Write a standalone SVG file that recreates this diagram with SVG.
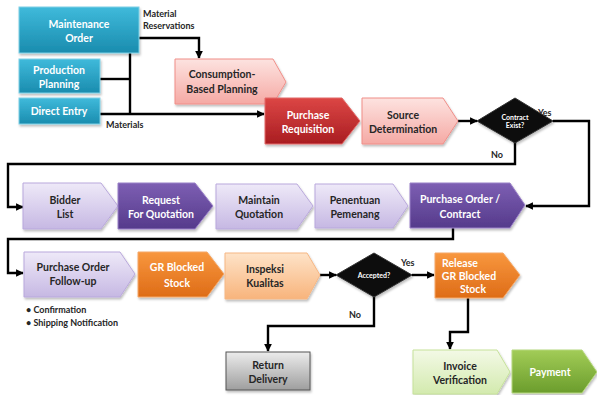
<svg xmlns="http://www.w3.org/2000/svg" width="597" height="395" viewBox="0 0 597 395">
<defs>
<linearGradient id="gTeal" x1="0" y1="0" x2="0" y2="1"><stop offset="0" stop-color="#3fbadb"/><stop offset="1" stop-color="#1a8cae"/></linearGradient>
<linearGradient id="gPink" x1="0" y1="0" x2="0" y2="1"><stop offset="0" stop-color="#fde3e0"/><stop offset="1" stop-color="#f5a9a4"/></linearGradient>
<linearGradient id="gRed" x1="0" y1="0" x2="0" y2="1"><stop offset="0" stop-color="#dc4645"/><stop offset="1" stop-color="#a91d21"/></linearGradient>
<linearGradient id="gLav" x1="0" y1="0" x2="0" y2="1"><stop offset="0" stop-color="#eee9f8"/><stop offset="1" stop-color="#c6b8e3"/></linearGradient>
<linearGradient id="gPur" x1="0" y1="0" x2="0" y2="1"><stop offset="0" stop-color="#7d5fb3"/><stop offset="1" stop-color="#553a8b"/></linearGradient>
<linearGradient id="gOra" x1="0" y1="0" x2="0" y2="1"><stop offset="0" stop-color="#f8973e"/><stop offset="1" stop-color="#de6c17"/></linearGradient>
<linearGradient id="gPeach" x1="0" y1="0" x2="0" y2="1"><stop offset="0" stop-color="#fee3c8"/><stop offset="1" stop-color="#f8b47c"/></linearGradient>
<linearGradient id="gGray" x1="0" y1="0" x2="0" y2="1"><stop offset="0" stop-color="#ececec"/><stop offset="1" stop-color="#9e9e9e"/></linearGradient>
<linearGradient id="gLGreen" x1="0" y1="0" x2="0" y2="1"><stop offset="0" stop-color="#f3f9e6"/><stop offset="1" stop-color="#d3eaae"/></linearGradient>
<linearGradient id="gGreen" x1="0" y1="0" x2="0" y2="1"><stop offset="0" stop-color="#a2cc57"/><stop offset="1" stop-color="#6b9d2c"/></linearGradient>
<filter id="sh" x="-10%" y="-10%" width="125%" height="135%"><feDropShadow dx="1" dy="2" stdDeviation="1.2" flood-color="#000" flood-opacity="0.25"/></filter>
<marker id="ah" viewBox="0 0 10 10" refX="9" refY="5" markerWidth="3.2" markerHeight="3.2" orient="auto" markerUnits="strokeWidth"><path d="M0,0 L10,5 L0,10 Z" fill="#000"/></marker>
</defs>
<style>
.n{filter:url(#sh);stroke-width:1}
.t{font-family:Lato,"Open Sans","Liberation Sans",sans-serif;font-weight:bold;font-size:10.5px;text-anchor:middle;fill:#262626}
.w{fill:#ffffff}
.d{font-size:7px}
.l{font-family:Lato,"Open Sans","Liberation Sans",sans-serif;font-weight:bold;font-size:9px;fill:#262626}
.c{fill:none;stroke:#000;stroke-width:2.4}
.a{marker-end:url(#ah)}
</style>
<rect width="597" height="395" fill="#ffffff"/>

<g id="connectors">
<path class="c a" d="M139,38 H199 V58"/>
<path class="c" d="M130,53 V114"/>
<path class="c" d="M100,79 H130"/>
<path class="c a" d="M100,114 H264"/>
<path class="c a" d="M458,121 H477"/>
<path class="c a" d="M553,121 H589 V206 H526"/>
<path class="c a" d="M515,142 V164 H8 V207 H23"/>
<path class="c a" d="M453,228 V239 H8 V273 H23"/>
<path class="c a" d="M320,275 H336"/>
<path class="c a" d="M412,275 H434"/>
<path class="c a" d="M374,297 V326 H268 V351"/>
<path class="c a" d="M468,298 V332 H450 V349"/>
</g>

<g id="labels">
<text class="l" x="143" y="17">Material</text>
<text class="l" x="143" y="29">Reservations</text>
<text class="l" x="106" y="128">Materials</text>
<text class="l" x="538" y="116">Yes</text>
<text class="l" x="491" y="158">No</text>
<text class="l" x="401" y="266">Yes</text>
<text class="l" x="349" y="318">No</text>
<text class="l" x="26" y="313">• Confirmation</text>
<text class="l" x="26" y="326">• Shipping Notification</text>
</g>

<g id="maintenance-order">
<rect class="n" x="19" y="7" width="120" height="46" fill="url(#gTeal)" stroke="#7fd0e6"/>
<text class="t w" x="79" y="28">Maintenance</text>
<text class="t w" x="79" y="42">Order</text>
</g>
<g id="production-planning">
<rect class="n" x="19" y="59" width="81" height="34" fill="url(#gTeal)" stroke="#7fd0e6"/>
<text class="t w" x="59" y="74">Production</text>
<text class="t w" x="59" y="88">Planning</text>
</g>
<g id="direct-entry">
<rect class="n" x="19" y="98" width="81" height="26" fill="url(#gTeal)" stroke="#7fd0e6"/>
<text class="t w" x="59" y="115">Direct Entry</text>
</g>

<g id="consumption-based-planning">
<path class="n" d="M175,59 H273 L286,82 L273,104 H175 Z" fill="url(#gPink)" stroke="#f08e88"/>
<text class="t" x="222" y="78">Consumption-</text>
<text class="t" x="222" y="93">Based Planning</text>
</g>
<g id="purchase-requisition">
<path class="n" d="M265,98 H342 L360,121 L342,144 H265 Z" fill="url(#gRed)" stroke="#e36a68"/>
<text class="t w" x="308" y="119">Purchase</text>
<text class="t w" x="308" y="133">Requisition</text>
</g>
<g id="source-determination">
<path class="n" d="M362,98 H443 L458,121 L443,144 H362 Z" fill="url(#gPink)" stroke="#f08e88"/>
<text class="t" x="403" y="119">Source</text>
<text class="t" x="403" y="133">Determination</text>
</g>
<g id="contract-exist">
<path class="n" d="M515,98 L553,121 L515,143 L477,121 Z" fill="#0a0a0a" stroke="#333"/>
<text class="t w d" x="515" y="120">Contract</text>
<text class="t w d" x="515" y="128">Exist?</text>
</g>

<g id="bidder-list">
<path class="n" d="M23,183 H101 L118,206 L101,229 H23 Z" fill="url(#gLav)" stroke="#b9a8dc"/>
<text class="t" x="65" y="204">Bidder</text>
<text class="t" x="65" y="218">List</text>
</g>
<g id="request-for-quotation">
<path class="n" d="M118,183 H195 L213,206 L195,229 H118 Z" fill="url(#gPur)" stroke="#9a80c8"/>
<text class="t w" x="161" y="204">Request</text>
<text class="t w" x="161" y="218">For Quotation</text>
</g>
<g id="maintain-quotation">
<path class="n" d="M216,184 H297 L313,206 L297,229 H216 Z" fill="url(#gLav)" stroke="#b9a8dc"/>
<text class="t" x="259" y="204">Maintain</text>
<text class="t" x="259" y="218">Quotation</text>
</g>
<g id="penentuan-pemenang">
<path class="n" d="M315,184 H393 L408,206 L393,228 H315 Z" fill="url(#gLav)" stroke="#b9a8dc"/>
<text class="t" x="355" y="204">Penentuan</text>
<text class="t" x="355" y="218">Pemenang</text>
</g>
<g id="purchase-order-contract">
<path class="n" d="M410,183 H510 L525,205 L510,228 H410 Z" fill="url(#gPur)" stroke="#9a80c8"/>
<text class="t w" x="460" y="203">Purchase Order /</text>
<text class="t w" x="460" y="218">Contract</text>
</g>

<g id="purchase-order-follow-up">
<path class="n" d="M24,252 H120 L135,274 L120,297 H24 Z" fill="url(#gLav)" stroke="#b9a8dc"/>
<text class="t" x="73" y="271">Purchase Order</text>
<text class="t" x="73" y="285">Follow-up</text>
</g>
<g id="gr-blocked-stock">
<path class="n" d="M138,252 H207 L224,274 L207,297 H138 Z" fill="url(#gOra)" stroke="#f5a868"/>
<text class="t w" x="177" y="271">GR Blocked</text>
<text class="t w" x="177" y="287">Stock</text>
</g>
<g id="inspeksi-kualitas">
<path class="n" d="M225,253 H307 L320,275 L307,299 H225 Z" fill="url(#gPeach)" stroke="#f6b784"/>
<text class="t" x="265" y="273">Inspeksi</text>
<text class="t" x="265" y="287">Kualitas</text>
</g>
<g id="accepted">
<path class="n" d="M374,253 L412,275 L374,297 L336,275 Z" fill="#0a0a0a" stroke="#333"/>
<text class="t w d" x="374" y="278">Accepted?</text>
</g>
<g id="release-gr-blocked-stock">
<path class="n" d="M435,253 H503 L520,275 L503,298 H435 Z" fill="url(#gOra)" stroke="#f5a868"/>
<text class="t w" x="460" y="267">Release</text>
<text class="t w" x="469" y="280">GR Blocked</text>
<text class="t w" x="473" y="293">Stock</text>
</g>

<g id="return-delivery">
<rect class="n" x="226" y="352" width="84" height="38" fill="url(#gGray)" stroke="#555"/>
<text class="t" x="268" y="369">Return</text>
<text class="t" x="268" y="383">Delivery</text>
</g>
<g id="invoice-verification">
<path class="n" d="M413,350 H497 L510,372 L497,394 H413 Z" fill="url(#gLGreen)" stroke="#c6e29a"/>
<text class="t" x="460" y="370">Invoice</text>
<text class="t" x="460" y="384">Verification</text>
</g>
<g id="payment">
<path class="n" d="M512,350 H582 L597,372 L582,393 H512 Z" fill="url(#gGreen)" stroke="#b5d77c"/>
<text class="t w" x="550" y="376">Payment</text>
</g>
</svg>
